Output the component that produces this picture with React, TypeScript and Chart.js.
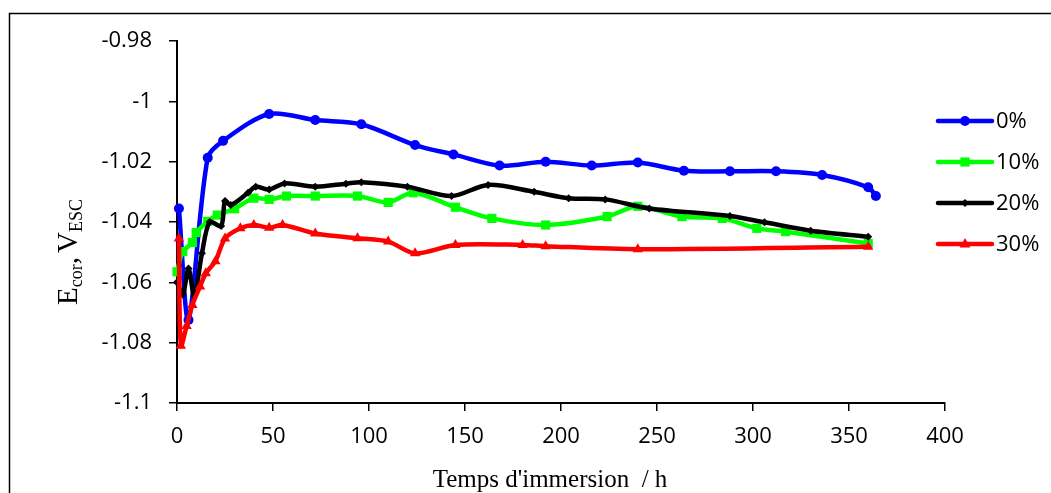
import React, { useEffect, useRef } from "react";
import { Chart, registerables } from "chart.js";

Chart.register(...registerables);

// ---- data ----
const xTickValues = [0, 50, 100, 150, 200, 250, 300, 350, 400];
const yTickValues = [-1.1, -1.08, -1.06, -1.04, -1.02, -1, -0.98];
const seriesLabels = ["0%", "10%", "20%", "30%"];
const seriesColors = ["#0000FF", "#00FF00", "#000000", "#FF0000"];
const xTitle = "Temps d'immersion  / h";

const time0 = [1, 6, 16, 24, 48, 72, 96, 124, 144, 168, 192, 216, 240, 264, 288, 312, 336, 360, 364];
const ecor0 = [-1.0355, -1.0725, -1.0187, -1.0131, -1.0042, -1.0062, -1.0076, -1.0145, -1.0176, -1.0213, -1.02, -1.0213, -1.0203, -1.023, -1.0232, -1.0232, -1.0244, -1.0285, -1.0314];

const time10 = [0, 3, 8, 10, 16, 21, 30, 40, 48, 57, 72, 94, 110, 123, 145, 164, 192, 224, 240, 263, 284, 302, 317, 360];
const ecor10 = [-1.0565, -1.0498, -1.0468, -1.0435, -1.0398, -1.0377, -1.0356, -1.0321, -1.0325, -1.0314, -1.0314, -1.0314, -1.0335, -1.0303, -1.0351, -1.0388, -1.041, -1.0382, -1.0348, -1.0382, -1.0388, -1.0421, -1.0432, -1.0471];

const time20 = [0, 3, 6, 9, 13, 17, 23, 25, 28, 37, 41, 48, 56, 72, 88, 96, 120, 143, 162, 186, 204, 223, 246, 288, 306, 330, 360];
const ecor20 = [-1.06, -1.064, -1.0554, -1.0645, -1.0504, -1.04, -1.0413, -1.033, -1.0344, -1.0303, -1.0283, -1.0292, -1.0272, -1.0283, -1.0273, -1.0268, -1.0283, -1.0314, -1.0277, -1.03, -1.0321, -1.0325, -1.0355, -1.038, -1.0401, -1.0429, -1.0449];

const time30 = [1, 2, 5, 8, 12, 15, 20, 25, 33, 40, 48, 55, 72, 94, 110, 124, 145, 180, 192, 240, 360];
const ecor30 = [-1.0455, -1.081, -1.0745, -1.0675, -1.0614, -1.057, -1.053, -1.0455, -1.0421, -1.041, -1.0419, -1.041, -1.0438, -1.0454, -1.0465, -1.0504, -1.0476, -1.0476, -1.048, -1.049, -1.0482];

const allTimes = [time0, time10, time20, time30];
const allValues = [ecor0, ecor10, ecor20, ecor30];
const pointStyles = ["circle", "rect", "rectRot", "triangle"];
const pointRadii = [5, 6.5, 4, 6];

const TICK_FONT = { family: "'Open Sans', sans-serif", size: 22 };

function drawMarker(ctx: CanvasRenderingContext2D, style: string, x: number, y: number, r: number, color: string) {
  ctx.save();
  ctx.fillStyle = color;
  ctx.beginPath();
  if (style === "circle") {
    ctx.arc(x, y, r, 0, Math.PI * 2);
  } else if (style === "rect") {
    const s = r * Math.SQRT1_2;
    ctx.rect(x - s, y - s, 2 * s, 2 * s);
  } else if (style === "rectRot") {
    ctx.moveTo(x, y - r);
    ctx.lineTo(x + r, y);
    ctx.lineTo(x, y + r);
    ctx.lineTo(x - r, y);
    ctx.closePath();
  } else {
    ctx.moveTo(x, y - r);
    ctx.lineTo(x + r * 0.9, y + r * 0.6);
    ctx.lineTo(x - r * 0.9, y + r * 0.6);
    ctx.closePath();
  }
  ctx.fill();
  ctx.restore();
}

const decorPlugin = {
  id: "decor",
  afterDraw(chart: any) {
    const ctx: CanvasRenderingContext2D = chart.ctx;
    ctx.save();
    // outer frame
    ctx.strokeStyle = "#000";
    ctx.lineWidth = 1.5;
    ctx.strokeRect(9.5, 13.5, 1200, 700);

    // x title
    ctx.fillStyle = "#000";
    ctx.font = "25px 'Liberation Serif', serif";
    ctx.textAlign = "center";
    ctx.textBaseline = "alphabetic";
    const area = chart.chartArea;
    ctx.fillText(xTitle, (area.left + area.right) / 2 - 11, 487);

    // y title with subscripts
    const segs = [
      { t: "E", sub: false },
      { t: "cor", sub: true },
      { t: ",V", sub: false },
      { t: "ESC", sub: true },
    ];
    const mainFont = "29px 'Liberation Serif', serif";
    const subFont = "18px 'Liberation Serif', serif";
    let total = 0;
    const widths = segs.map((s) => {
      ctx.font = s.sub ? subFont : mainFont;
      const w = ctx.measureText(s.t).width + (s.t === ",V" ? 4 : 0);
      total += w;
      return w;
    });
    ctx.translate(77, 252);
    ctx.rotate(-Math.PI / 2);
    ctx.textAlign = "left";
    let cx = -total / 2;
    segs.forEach((s, i) => {
      ctx.font = s.sub ? subFont : mainFont;
      if (s.t === ",V") {
        ctx.fillText(",", cx, 0);
        const cw = ctx.measureText(",").width;
        ctx.fillText("V", cx + cw + 4, 0);
      } else {
        ctx.fillText(s.t, cx, s.sub ? 5 : 0);
      }
      cx += widths[i];
    });
    ctx.restore();

    // legend
    ctx.save();
    ctx.font = "22px 'Open Sans', sans-serif";
    ctx.textBaseline = "middle";
    ctx.textAlign = "left";
    seriesLabels.forEach((lab, i) => {
      const y = 121 + i * 41;
      ctx.strokeStyle = seriesColors[i];
      ctx.lineWidth = 4.5;
      ctx.lineCap = "round";
      ctx.beginPath();
      ctx.moveTo(938, y);
      ctx.lineTo(992, y);
      ctx.stroke();
      drawMarker(ctx, pointStyles[i], 965, y, pointRadii[i], seriesColors[i]);
      ctx.fillStyle = "#000";
      ctx.fillText(lab, 996, y + 1);
    });
    ctx.restore();
  },
};

export default function App() {
  const ref = useRef<HTMLCanvasElement | null>(null);
  useEffect(() => {
    if (!ref.current) return;
    const datasets = seriesLabels.map((lab, i) => ({
      label: lab,
      data: allTimes[i].map((t, j) => ({ x: t, y: allValues[i][j] })),
      borderColor: seriesColors[i],
      backgroundColor: seriesColors[i],
      pointBackgroundColor: seriesColors[i],
      pointBorderColor: seriesColors[i],
      pointBorderWidth: 0,
      pointStyle: pointStyles[i],
      pointRadius: pointRadii[i],
      borderWidth: 4.5,
      tension: 0.3,
      clip: false as any,
      order: 3 - i,
    }));
    const chart = new Chart(ref.current, {
      type: "line",
      data: { datasets },
      options: {
        animation: false,
        responsive: false,
        devicePixelRatio: 1,
        layout: { padding: { left: 0, top: 41, right: 106, bottom: 0 } },
        plugins: { legend: { display: false }, tooltip: { enabled: false }, title: { display: false } },
        scales: {
          x: {
            type: "linear",
            min: 0,
            max: 400,
            afterBuildTicks: (s: any) => {
              s.ticks = xTickValues.map((v) => ({ value: v }));
            },
            afterFit: (s: any) => {
              s.height = 90;
            },
            grid: { drawOnChartArea: false, drawTicks: true, tickLength: 8, color: "#000", lineWidth: 1.5 },
            border: { display: true, color: "#000", width: 2 },
            ticks: { color: "#000", font: TICK_FONT, padding: 13, maxRotation: 0, autoSkip: false },
          },
          y: {
            type: "linear",
            min: -1.1,
            max: -0.98,
            afterBuildTicks: (s: any) => {
              s.ticks = yTickValues.map((v) => ({ value: v }));
            },
            afterFit: (s: any) => {
              s.width = 177;
            },
            grid: { drawOnChartArea: false, drawTicks: true, tickLength: 8, color: "#000", lineWidth: 1.5 },
            border: { display: true, color: "#000", width: 2 },
            ticks: {
              color: "#000",
              font: TICK_FONT,
              padding: 17,
              autoSkip: false,
              callback: (v: any) => String(Number(Number(v).toFixed(2))),
            },
          },
        },
      },
      plugins: [decorPlugin],
    });
    return () => chart.destroy();
  }, []);
  return (
    <div style={{ position: "fixed", left: 0, top: 0, width: 1051, height: 493, background: "#fff" }}>
      <canvas ref={ref} width={1051} height={493} style={{ display: "block" }} />
    </div>
  );
}
